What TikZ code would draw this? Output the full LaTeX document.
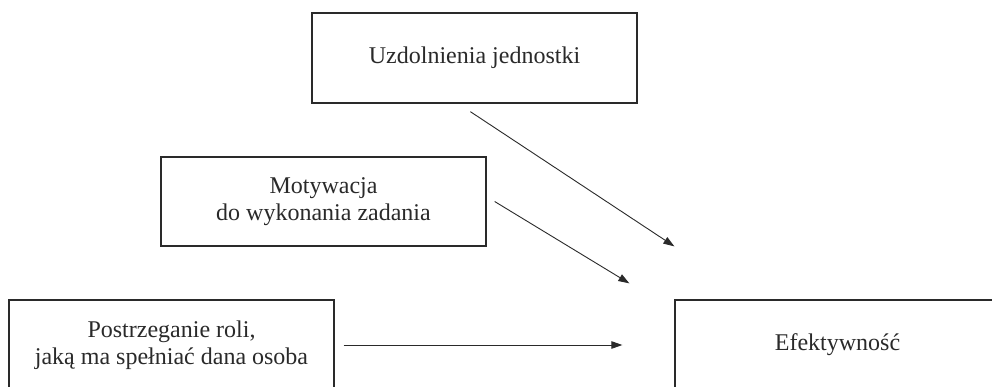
\documentclass[tikz,border=0pt]{standalone}
\usepackage{fontspec}
\setmainfont{Liberation Serif}
\usetikzlibrary{arrows.meta}
\definecolor{ink}{HTML}{2A2A2A}
\begin{document}
\begin{tikzpicture}[x=1pt,y=-1pt,
  factor/.style={draw=ink, line width=1.3pt, rectangle, minimum width=325pt,
    minimum height=90pt, inner sep=0pt, align=center, text=ink,
    font=\fontsize{24pt}{27pt}\selectfont},
  influence/.style={draw=ink, line width=0.9pt,
    -{Triangle[length=11pt,width=7.5pt]}}]
  \useasboundingbox (0,0) rectangle (992,386);
  \clip (0,0) rectangle (992,386);
  \fill[white] (0,0) rectangle (992,386);

  % the four boxes
  \node[factor] (ability) at (474.5,58) {Uzdolnienia jednostki};
  \node[factor, minimum height=89pt] (motive) at (323.5,201.5)
    {Motywacja\\do wykonania zadania};
  \node[factor] (role) at (171.5,345)
    {Postrzeganie roli,\\jaką ma spełniać dana osoba};
  \node[factor] (effect) at (837.5,345) {Efektywność};

  % arrow ends in front of the outcome box
  \coordinate (a1) at ([shift={(159,8)}]ability.south west);
  \coordinate (a2) at ([shift={(8,0)}]motive.east);
  \coordinate (a3) at ([shift={(9,0)}]role.east);
  \coordinate (e1) at ([shift={(0,-53)}]effect.north west);
  \coordinate (e2) at ([shift={(-45,-16)}]effect.north west);
  \coordinate (e3) at ([shift={(-52,0)}]effect.west);

  \draw[influence] (a1) -- (e1);
  \draw[influence] (a2) -- (e2);
  \draw[influence] (a3) -- (e3);
\end{tikzpicture}
\end{document}
